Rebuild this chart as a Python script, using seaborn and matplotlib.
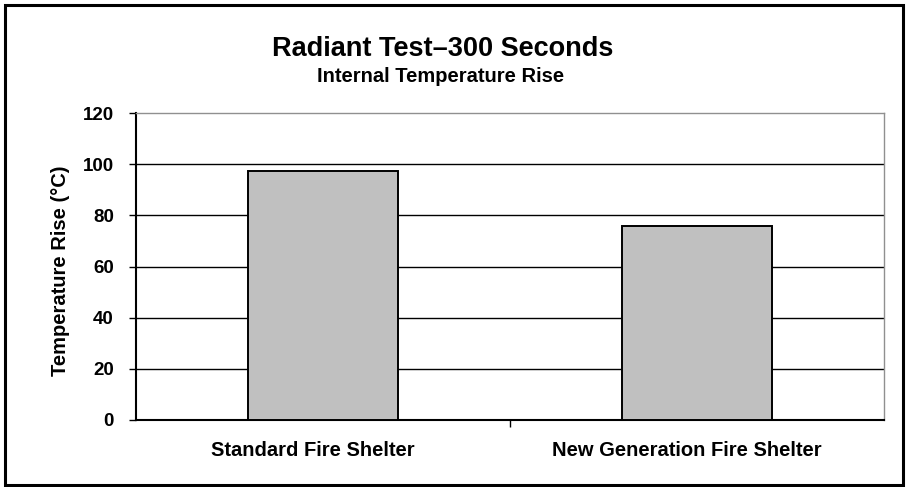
import matplotlib
matplotlib.use("Agg")
import matplotlib.pyplot as plt
import matplotlib.transforms as mtransforms
import seaborn as sns
import pandas as pd
from matplotlib.patches import Rectangle

# chart values
shelters = ["Standard Fire Shelter", "New Generation Fire Shelter"]
temp_rise = [97.3, 75.8]
y_ticks = [0, 20, 40, 60, 80, 100, 120]

df = pd.DataFrame({"Shelter": shelters, "Rise": temp_rise})

sns.set_style("white", {"text.color": "black", "axes.labelcolor": "black",
                        "xtick.color": "black", "ytick.color": "black"})
plt.rcParams["font.family"] = ["Liberation Sans", "DejaVu Sans"]

fig = plt.figure(figsize=(9.09, 4.87), dpi=100)
ax = fig.add_axes([136 / 909, 1 - 420 / 487, (884 - 136) / 909, (420 - 113) / 487])

sns.barplot(data=df, x="Shelter", y="Rise", color="#c0c0c0", edgecolor="black",
            linewidth=1.4, width=0.4, saturation=1, ax=ax, zorder=3)

ax.set_xlim(-0.5, 1.5)
ax.set_ylim(0, 120)
ax.set_yticks(y_ticks)
ax.set_yticklabels([str(t) for t in y_ticks], fontsize=13.5, fontweight="bold", color="black")
ax.set_xticks([0, 1])
ax.set_xticklabels(shelters, fontsize=14.5, fontweight="bold", color="black")
ax.set_xticks([0.5], minor=True)
ax.tick_params(axis="x", which="major", length=0, pad=15)
ax.tick_params(axis="x", which="minor", bottom=True, length=5, width=1, color="black",
               direction="out")
ax.tick_params(axis="y", left=True, length=5, width=1, color="black", direction="out", pad=11)

# category labels sit a little left of the bar centres, like the original
shift = mtransforms.ScaledTranslation(-10 / 100, 0, fig.dpi_scale_trans)
for lbl in ax.get_xticklabels():
    lbl.set_transform(lbl.get_transform() + shift)

for t in y_ticks[1:-1]:
    ax.axhline(t, color="black", linewidth=1, zorder=1)

for side in ["top", "right"]:
    ax.spines[side].set_color("#909090")
    ax.spines[side].set_linewidth(1)
for side in ["left", "bottom"]:
    ax.spines[side].set_color("black")
    ax.spines[side].set_linewidth(1.5)

ax.set_xlabel("")
ax.set_ylabel("Temperature Rise (°C)", fontsize=14.5, fontweight="bold", color="black")
ax.yaxis.set_label_coords((70 - 136) / 748, 0.485)

fig.text(443 / 909, 1 - 49 / 487, "Radiant Test–300 Seconds", ha="center", va="center",
         fontsize=19.5, fontweight="bold", color="black")
fig.text(441 / 909, 1 - 76 / 487, "Internal Temperature Rise", ha="center", va="center",
         fontsize=14.5, fontweight="bold", color="black")

# outer frame
fig.patches.append(Rectangle((5 / 909, 2 / 487), 898 / 909, 480 / 487, transform=fig.transFigure,
                             fill=False, edgecolor="black", linewidth=2.2))

fig.savefig("out.png", dpi=100)
